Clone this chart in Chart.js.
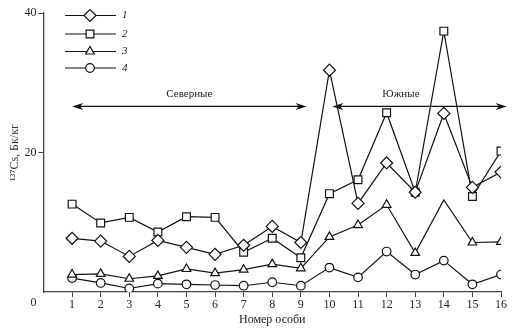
<!DOCTYPE html>
<html>
<head>
<meta charset="utf-8">
<script src="https://cdn.jsdelivr.net/npm/chart.js@4/dist/chart.umd.min.js"></script>
<style>
  html, body { margin: 0; padding: 0; background: #fff; }
  #wrap { width: 530px; height: 335px; }
</style>
</head>
<body>
<div id="wrap"><canvas id="cs137"></canvas></div>
<script>
'use strict';

// Номер особи
const individuals = [1, 2, 3, 4, 5, 6, 7, 8, 9, 10, 11, 12, 13, 14, 15, 16];
// 137Cs, Бк/кг
const series1 = [7.7, 7.3, 5.1, 7.4, 6.4, 5.4, 6.7, 9.4, 7.1, 31.8, 12.7, 18.5, 14.3, 25.6, 15.0, 17.2];
const series2 = [12.6, 9.9, 10.7, 8.6, 10.8, 10.7, 5.7, 7.7, 4.9, 14.1, 16.1, 25.7, 14.3, 37.4, 13.7, 20.2];
const series3 = [2.5, 2.6, 1.9, 2.3, 3.3, 2.7, 3.2, 4.0, 3.4, 7.9, 9.6, 12.5, 5.6, 13.2, 7.1, 7.2];
const series4 = [2.0, 1.3, 0.5, 1.2, 1.1, 1.0, 0.9, 1.4, 0.9, 3.5, 2.1, 5.8, 2.5, 4.5, 1.1, 2.5];
const seriesNames = ['1', '2', '3', '4'];
const yTicks = [20, 40];

// groups shown with arrows: [from, to] on the x scale, y level, label
const groups = [
    { name: 'Северные', from: 1.0, to: 9.2, y: 26.6, labelX: 5.1 },
    { name: 'Южные', from: 10.1, to: 16.2, y: 26.6, labelX: 12.5 }
];

const FONT = '"Liberation Serif", "Times New Roman", serif';
const INK = '#111';

const toPoints = vals => vals.map((v, i) => ({ x: individuals[i], y: v }));

const styles = [
    { pointStyle: 'rectRot', radius: 6 },
    { pointStyle: 'rect', radius: 5.5 },
    { pointStyle: 'triangle', radius: 5 },
    { pointStyle: 'circle', radius: 4.3 }
];

// triangle series has no marker at individual 14
const radius3 = series3.map((v, i) => individuals[i] === 14 ? 0 : styles[2].radius);

const makeSet = (label, vals, st, radius) => ({
    label: label,
    data: toPoints(vals),
    borderColor: INK,
    borderWidth: 1.2,
    backgroundColor: '#fff',
    pointStyle: st.pointStyle,
    pointRadius: radius !== undefined ? radius : st.radius,
    pointBorderWidth: 1.2,
    pointBorderColor: INK,
    pointBackgroundColor: '#fff',
    tension: 0
});

function arrowHead(ctx, x, y, dir) {
    ctx.beginPath();
    ctx.moveTo(x, y);
    ctx.lineTo(x - dir * 11, y - 3.5);
    ctx.lineTo(x - dir * 8, y);
    ctx.lineTo(x - dir * 11, y + 3.5);
    ctx.closePath();
    ctx.fill();
}

const annotations = {
    id: 'annotations',
    afterDraw(chart) {
        const ctx = chart.ctx;
        const xs = chart.scales.x;
        const ys = chart.scales.y;
        ctx.save();
        ctx.strokeStyle = INK;
        ctx.fillStyle = INK;
        ctx.lineWidth = 1.3;

        // group arrows
        groups.forEach(g => {
            const x1 = xs.getPixelForValue(g.from);
            const x2 = xs.getPixelForValue(g.to);
            const y = ys.getPixelForValue(g.y);
            ctx.beginPath();
            ctx.moveTo(x1 + 4, y);
            ctx.lineTo(x2 - 4, y);
            ctx.stroke();
            arrowHead(ctx, x1, y, -1);
            arrowHead(ctx, x2, y, 1);
            ctx.font = '11px ' + FONT;
            ctx.fillStyle = '#222';
            ctx.textAlign = 'center';
            ctx.textBaseline = 'bottom';
            ctx.fillText(g.name, xs.getPixelForValue(g.labelX), y - 7);
            ctx.fillStyle = INK;
        });

        // zero at the corner
        ctx.font = '12px ' + FONT;
        ctx.fillStyle = '#222';
        ctx.textAlign = 'center';
        ctx.textBaseline = 'middle';
        ctx.fillText('0', xs.left - 10, ys.bottom + 11);

        // legend
        const rows = [15.5, 34, 51.5, 68];
        rows.forEach((ry, i) => {
            ctx.strokeStyle = INK;
            ctx.lineWidth = 1.2;
            ctx.beginPath();
            ctx.moveTo(65, ry);
            ctx.lineTo(116, ry);
            ctx.stroke();
            ctx.fillStyle = '#fff';
            Chart.helpers.drawPoint(ctx, {
                pointStyle: styles[i].pointStyle,
                radius: styles[i].radius,
                borderWidth: 1.2,
                rotation: 0
            }, 90, ry);
            ctx.fillStyle = '#222';
            ctx.font = 'italic 11px ' + FONT;
            ctx.textAlign = 'left';
            ctx.textBaseline = 'middle';
            ctx.fillText(seriesNames[i], 122, ry);
        });
        ctx.restore();
    }
};

const ctx = document.getElementById('cs137');
const cs137Chart = new Chart(ctx, {
    type: 'line',
    data: {
        datasets: [
            makeSet(seriesNames[0], series1, styles[0]),
            makeSet(seriesNames[1], series2, styles[1]),
            makeSet(seriesNames[2], series3, styles[2], radius3),
            makeSet(seriesNames[3], series4, styles[3])
        ]
    },
    options: {
        responsive: true,
        maintainAspectRatio: false,
        animation: false,
        layout: { padding: { left: 0, right: 29, top: 13, bottom: 0 } },
        plugins: {
            legend: { display: false },
            tooltip: { enabled: false }
        },
        scales: {
            x: {
                type: 'linear',
                min: 0,
                max: 16,
                afterBuildTicks: scale => {
                    scale.ticks = individuals.map(v => ({ value: v }));
                },
                afterFit: scale => { scale.height = 43; },
                ticks: {
                    color: '#222',
                    font: { family: FONT, size: 12 },
                    padding: 1,
                    maxRotation: 0,
                    autoSkip: false
                },
                grid: {
                    drawOnChartArea: false,
                    drawTicks: true,
                    tickLength: 5,
                    color: '#444'
                },
                border: { color: '#444', width: 1.3 },
                title: {
                    display: true,
                    text: 'Номер особи',
                    color: '#222',
                    font: { family: FONT, size: 12 },
                    padding: { top: 2, bottom: 8 }
                }
            },
            y: {
                min: 0,
                max: 40,
                afterBuildTicks: scale => {
                    scale.ticks = yTicks.map(v => ({ value: v }));
                },
                afterFit: scale => { scale.width = 43.5; },
                ticks: {
                    color: '#222',
                    font: { family: FONT, size: 12 },
                    padding: 2
                },
                grid: {
                    drawOnChartArea: false,
                    drawTicks: true,
                    tickLength: 5,
                    color: '#444'
                },
                border: { color: '#444', width: 1.3 },
                title: {
                    display: true,
                    text: '¹³⁷Cs, Бк/кг',
                    color: '#333',
                    font: { family: FONT, size: 12 },
                    padding: { top: 8, bottom: 0 }
                }
            }
        }
    },
    plugins: [annotations]
});
</script>
</body>
</html>
